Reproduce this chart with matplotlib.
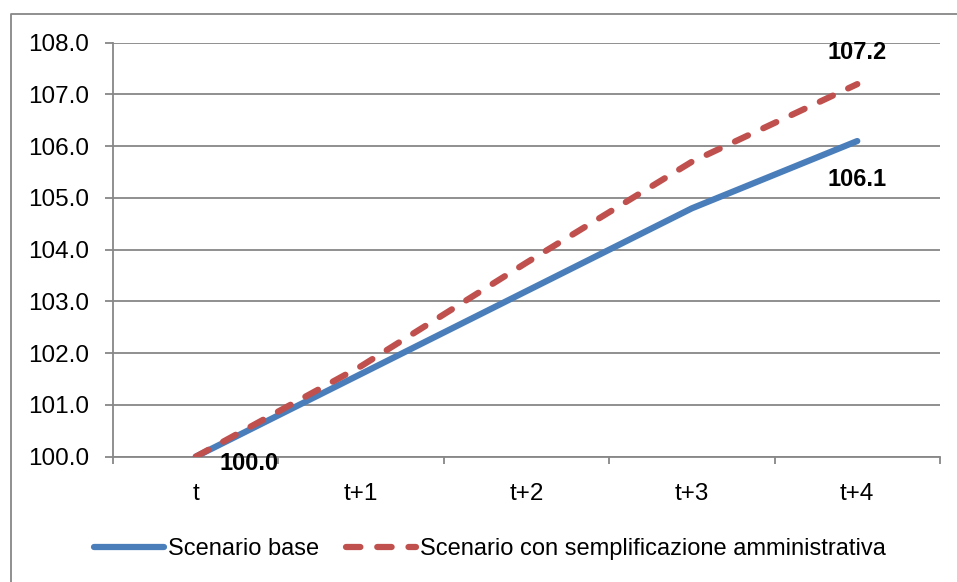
import numpy as np
import matplotlib
matplotlib.use("Agg")
import matplotlib.pyplot as plt
from matplotlib.lines import Line2D

plt.rcParams['font.family'] = ['Liberation Sans', 'DejaVu Sans']

# data
periods = ["t", "t+1", "t+2", "t+3", "t+4"]
base = [100.0, 101.6, 103.2, 104.8, 106.1]
semplificazione = [100.0, 101.75, 103.75, 105.7, 107.2]
yticks = [100, 101, 102, 103, 104, 105, 106, 107, 108]

BLUE = "#4A7EBB"
RED = "#C0504D"
GRID = "#878787"

fig = plt.figure(figsize=(9.57, 5.82), dpi=100)
# outer chart border (only top and left edges fall inside the image)
fig.add_artist(Line2D([11 / 957, 11 / 957, 1.0], [0.0, 1 - 14 / 582, 1 - 14 / 582],
                      transform=fig.transFigure, color=GRID, linewidth=1.3))

ax = fig.add_axes([0.1181, 0.2153, 0.8641, 0.7113])
x = np.arange(len(periods))

ax.plot(x, base, color=BLUE, linewidth=4.5, solid_capstyle="round",
        label="Scenario base", zorder=3)
ax.plot(x, semplificazione, color=RED, linewidth=4.5, dashes=(2.3, 2.7),
        dash_capstyle="round", label="Scenario con semplificazione amministrativa",
        zorder=4)

# data labels
ax.annotate(f"{base[0]:.1f}", (x[0], base[0]), xytext=(17, -5),
            textcoords="offset points", ha="left", va="center",
            fontsize=17, fontweight="bold", zorder=5)
ax.annotate(f"{semplificazione[-1]:.1f}", (x[-1], semplificazione[-1]),
            xytext=(0, 23), textcoords="offset points", ha="center",
            va="center", fontsize=17, fontweight="bold")
ax.annotate(f"{base[-1]:.1f}", (x[-1], base[-1]), xytext=(0, -28),
            textcoords="offset points", ha="center", va="center",
            fontsize=17, fontweight="bold")

ax.set_xlim(-0.5, len(periods) - 0.5)
ax.set_ylim(yticks[0], yticks[-1])
ax.set_yticks(yticks)
ax.set_yticklabels([f"{v:.1f}" for v in yticks])
ax.set_xticks(x)
ax.set_xticklabels(periods)
ax.set_xticks(np.arange(-0.5, len(periods)), minor=True)

ax.grid(axis="y", color=GRID, linewidth=1.3)
ax.set_axisbelow(True)
for side in ["top", "right"]:
    ax.spines[side].set_visible(False)
for side in ["left", "bottom"]:
    ax.spines[side].set_color(GRID)
    ax.spines[side].set_linewidth(1.3)

ax.tick_params(axis="y", length=6, width=1.3, color=GRID, pad=11, labelsize=17.5)
ax.tick_params(axis="x", which="major", length=0, pad=19, labelsize=17.5)
ax.tick_params(axis="x", which="minor", length=5, width=1.3, color=GRID)

fig.legend(loc="center", bbox_to_anchor=(0.512, 0.057), ncol=2, frameon=False,
           fontsize=17, handlelength=3.0, columnspacing=1.1, handletextpad=0.17)

fig.savefig("out.png", dpi=100)
